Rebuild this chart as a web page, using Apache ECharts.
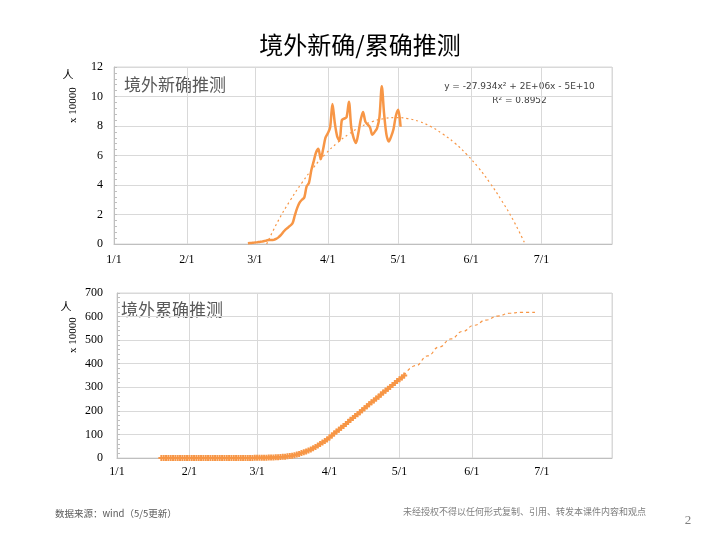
<!DOCTYPE html>
<html>
<head>
<meta charset="utf-8">
<script src="https://cdn.jsdelivr.net/npm/echarts@6/dist/echarts.min.js"></script>
<style>html,body{margin:0;padding:0;background:#fff;}#c{width:720px;height:540px;}</style>
</head>
<body>
<div id="c"></div>
<script>
// ---- data (unit: x10000 people) ----
const newStart = '2020-02-27';
const newCases = [0.05,0.07,0.08,0.10,0.12,0.14,0.16,0.20,0.24,0.27,0.27,0.28,0.35,0.45,0.60,0.80,0.98,1.10,1.24,1.40,
  1.95,2.45,2.80,3.00,3.15,3.90,4.15,5.00,5.60,6.20,6.45,5.75,6.40,7.20,7.50,7.90,9.50,8.20,7.30,7.00,
  8.40,8.50,8.60,9.65,7.90,7.20,6.85,7.50,8.40,8.95,8.30,8.10,7.90,7.40,7.60,7.85,8.60,10.70,8.80,7.40,
  6.95,7.30,7.80,8.70,9.10,7.95];
const trendDates = ['2020-03-06','2020-03-11','2020-03-16','2020-03-21','2020-03-26','2020-03-31','2020-04-05','2020-04-10',
  '2020-04-15','2020-04-20','2020-04-25','2020-04-30','2020-05-05','2020-05-10','2020-05-15','2020-05-20','2020-05-25',
  '2020-05-30','2020-06-04','2020-06-09','2020-06-14','2020-06-19','2020-06-24'];
const trendValues = [0,1.6,2.95,4.15,5.2,6.1,6.85,7.45,7.95,8.3,8.5,8.57,8.5,8.3,7.95,7.45,6.85,6.1,5.2,4.15,2.95,1.6,0];

const cumStart = '2020-01-20';
const cumCases = [0,0,0,0,0,0,0.01,0.01,0.01,0.01,0.01,0.01,
  0.01,0.01,0.02,0.02,0.02,0.02,0.03,0.03,0.03,0.03,0.04,0.04,0.05,0.05,0.05,0.07,0.07,0.08,0.1,0.11,0.13,0.16,0.2,0.24,0.28,0.33,0.39,0.46,0.55,
  0.8,0.95,1.1,1.3,1.5,1.8,2.1,2.5,2.9,3.4,4.0,4.8,5.8,7.0,8.4,10,12,14.5,17.5,21,24.5,28,32,36.5,41.5,47,53,59,65.5,72,79,
  87,95,104,112,120,128,136,144,153,162,170,178,186,194,203,211,219.5,228,236,244,252,260,269,277.5,285.5,293.5,301.5,309.5,318,326.5,
  334,342,350];
const projDates = ['2020-05-03','2020-05-08','2020-05-13','2020-05-18','2020-05-23','2020-05-28','2020-06-02','2020-06-07','2020-06-12','2020-06-17','2020-06-22','2020-06-28'];
const projValues = [350,392,433,471,505,537,563,585,602,614,618,618];

const monthTicks = ['1/1','2/1','3/1','4/1','5/1','6/1','7/1'];

// ---- helpers ----
function dailyPairs(start, vals) {
  const d0 = new Date(start + 'T00:00:00');
  return vals.map((v, i) => {
    const d = new Date(d0.getTime()); d.setDate(d0.getDate() + i);
    return [d.getTime(), v];
  });
}
function pairs(dates, vals) { return dates.map((d, i) => [new Date(d + 'T00:00:00').getTime(), vals[i]]); }

const ORANGE = '#F79646';
const GRIDC = '#D9D9D9';
const AXISC = '#BFBFBF';
const SERIF = 'Liberation Serif';
const CJK = 'Noto Sans CJK SC';

function xAx(gi, margin) {
  return {
    type: 'time', gridIndex: gi,
    min: new Date('2020-01-01T00:00:00').getTime(),
    max: new Date('2020-07-31T00:00:00').getTime(),
    minInterval: 28 * 864e5, maxInterval: 31 * 864e5,
    axisLine: { show: true, lineStyle: { color: AXISC } },
    axisTick: { show: false },
    splitLine: { show: true, lineStyle: { color: GRIDC, width: 1 } },
    axisLabel: {
      color: '#000', fontFamily: SERIF, fontSize: 12, margin: margin, hideOverlap: false,
      formatter: function (v) { const d = new Date(v); const s = (d.getMonth() + 1) + '/' + d.getDate(); return monthTicks.indexOf(s) >= 0 ? s : ''; }
    }
  };
}
function yAx(gi, max, interval, margin) {
  return {
    type: 'value', gridIndex: gi, min: 0, max: max, interval: interval,
    axisLine: { show: true, lineStyle: { color: AXISC } },
    axisTick: { show: true, inside: true, length: 3, lineStyle: { color: AXISC } },
    minorTick: { show: true, splitNumber: 5, length: 3, lineStyle: { color: AXISC } },
    splitLine: { show: true, lineStyle: { color: GRIDC, width: 1 } },
    axisLabel: { color: '#000', fontFamily: SERIF, fontSize: 12, margin: margin }
  };
}

const plus = 'path://M2,0H4V2H6V4H4V6H2V4H0V2H2Z';

const chart = echarts.init(document.getElementById('c'), null, { renderer: 'canvas' });
chart.setOption({
  animation: false,
  backgroundColor: '#fff',
  title: {
    text: '境外新确/累确推测', left: 'center', top: 28,
    textStyle: { fontFamily: CJK, fontSize: 24, fontWeight: 'normal', color: '#000' }
  },
  grid: [
    { left: 114, right: 108, top: 67, height: 177, show: true, borderColor: GRIDC, borderWidth: 1, containLabel: false },
    { left: 117, right: 108, top: 293, height: 165, show: true, borderColor: GRIDC, borderWidth: 1, containLabel: false }
  ],
  xAxis: [xAx(0, 10), xAx(1, 8)],
  yAxis: [yAx(0, 12, 2, 11), yAx(1, 700, 100, 14)],
  series: [
    {
      type: 'line', xAxisIndex: 0, yAxisIndex: 0, data: dailyPairs(newStart, newCases),
      showSymbol: false, smooth: 0.3, lineStyle: { color: ORANGE, width: 2.5 }, itemStyle: { color: ORANGE }, z: 3
    },
    {
      type: 'line', xAxisIndex: 0, yAxisIndex: 0, data: pairs(trendDates, trendValues),
      showSymbol: false, smooth: true, lineStyle: { color: ORANGE, width: 1.2, type: [2, 3] }, itemStyle: { color: ORANGE }, z: 2
    },
    {
      type: 'line', xAxisIndex: 1, yAxisIndex: 1, data: dailyPairs(cumStart, cumCases),
      symbol: plus, symbolSize: 6, showSymbol: true, lineStyle: { color: ORANGE, width: 2 },
      itemStyle: { color: ORANGE }, z: 3
    },
    {
      type: 'line', xAxisIndex: 1, yAxisIndex: 1, data: pairs(projDates, projValues),
      showSymbol: false, smooth: true, smoothMonotone: 'x', lineStyle: { color: ORANGE, width: 1.2, type: [3, 3] }, itemStyle: { color: ORANGE }, z: 2
    }
  ],
  graphic: [
    { type: 'text', left: 124, top: 76, style: { text: '境外新确推测', font: '17px "Noto Sans CJK SC"', fill: '#595959' } },
    { type: 'text', left: 121, top: 301, style: { text: '境外累确推测', font: '17px "Noto Sans CJK SC"', fill: '#595959' } },
    { type: 'text', x: 519.5, y: 87, style: { text: 'y = -27.934x² + 2E+06x - 5E+10', font: '9px "DejaVu Sans"', fill: '#404040', align: 'center', verticalAlign: 'middle' } },
    { type: 'text', x: 519.5, y: 101, style: { text: 'R² = 0.8952', font: '9px "DejaVu Sans"', fill: '#404040', align: 'center', verticalAlign: 'middle' } },
    { type: 'text', x: 68, y: 75, style: { text: '人', font: '11px "Noto Sans CJK SC"', fill: '#000', align: 'center', verticalAlign: 'middle' } },
    { type: 'text', x: 73, y: 105, rotation: Math.PI / 2, style: { text: 'x 10000', font: '11px "Liberation Serif"', fill: '#000', align: 'center', verticalAlign: 'middle' } },
    { type: 'text', x: 66, y: 307, style: { text: '人', font: '11px "Noto Sans CJK SC"', fill: '#000', align: 'center', verticalAlign: 'middle' } },
    { type: 'text', x: 73, y: 335, rotation: Math.PI / 2, style: { text: 'x 10000', font: '11px "Liberation Serif"', fill: '#000', align: 'center', verticalAlign: 'middle' } },
    { type: 'text', x: 55, y: 513, style: { text: '数据来源：wind（5/5更新）', font: '9.5px "Noto Sans CJK SC"', fill: '#595959', verticalAlign: 'middle' } },
    { type: 'text', x: 403, y: 512, style: { text: '未经授权不得以任何形式复制、引用、转发本课件内容和观点', font: '9px "Noto Sans CJK SC"', fill: '#7F7F7F', verticalAlign: 'middle' } },
    { type: 'text', x: 688, y: 521, style: { text: '2', font: '13px "Liberation Serif"', fill: '#7F7F7F', align: 'center', verticalAlign: 'middle' } }
  ]
});
</script>
</body>
</html>
